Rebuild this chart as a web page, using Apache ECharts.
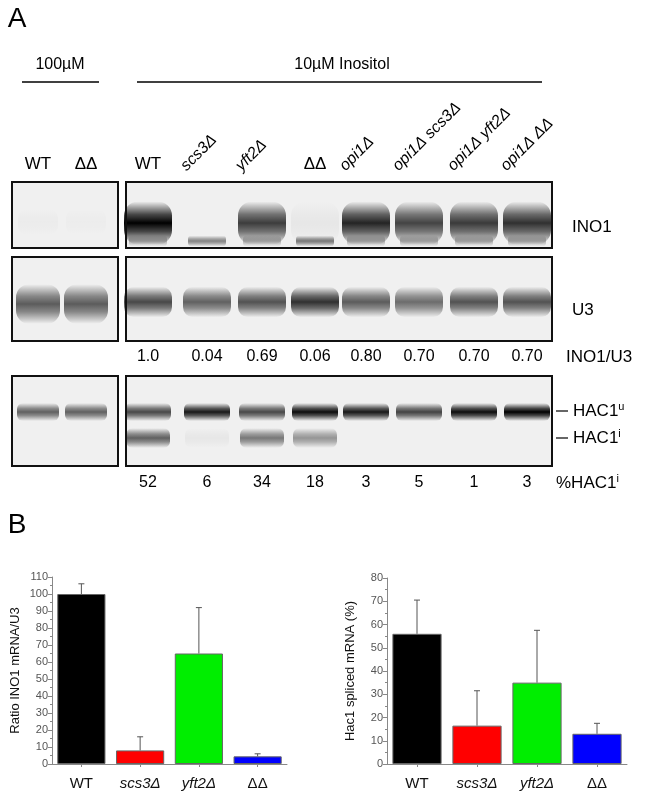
<!DOCTYPE html>
<html><head><meta charset="utf-8">
<script src="https://cdn.jsdelivr.net/npm/echarts@6/dist/echarts.min.js"></script>
<style>html,body{margin:0;padding:0;background:#fff}#c{width:651px;height:800px}</style>
</head><body><div id="c"></div>
<script>
// ---- Panel B data ----
const categories = ['WT', 'scs3Δ', 'yft2Δ', 'ΔΔ'];
const barColors = ['#000000', '#ff0000', '#00ee00', '#0000ff'];
const ino1Ratio = [100, 8, 65, 4.5];
const ino1RatioErr = [106, 16, 92, 6];
const hac1Spliced = [56, 16.5, 35, 13];
const hac1SplicedErr = [70.5, 31.5, 57.5, 17.5];
const leftTicks = [0,10,20,30,40,50,60,70,80,90,100,110];
const rightTicks = [0,10,20,30,40,50,60,70,80];
// ---- Panel A data ----
const laneLabelsLeft = ['WT', 'ΔΔ'];
const laneLabelsRight = ['WT', 'scs3Δ', 'yft2Δ', 'ΔΔ', 'opi1Δ', 'opi1Δ scs3Δ', 'opi1Δ yft2Δ', 'opi1Δ ΔΔ'];
const ino1OverU3 = ['1.0', '0.04', '0.69', '0.06', '0.80', '0.70', '0.70', '0.70'];
const pctHac1i = ['52', '6', '34', '18', '3', '5', '1', '3'];
const ino1Band = [1, 0, 0.75, 0.04, 0.85, 0.72, 0.76, 0.8];
const ino1Lower = [0.25, 0.45, 0.25, 0.5, 0.25, 0.25, 0.25, 0.25];
const u3Band = [0.7, 0.6, 0.66, 0.8, 0.62, 0.55, 0.66, 0.66];
const hacU = [0.7, 0.9, 0.7, 0.95, 0.9, 0.72, 0.95, 1];
const hacI = [0.6, 0.04, 0.5, 0.38, 0, 0, 0, 0];
const leftU3 = [0.62, 0.62];
const leftHacU = [0.6, 0.6];
const leftIno1 = [0.02, 0.015];

const laneXR = [148, 207, 262, 315, 366, 419, 474, 527];
const laneXL = [38, 86];
const F = '"Liberation Sans", Arial';
const g = [];
function txt(x, y, s, o) { g.push(Object.assign({type:'text', x, y, style:Object.assign({text:s, fill:'#000', font:'15px '+F, align:'center', verticalAlign:'middle'}, o||{})})); }
function line(x1,y1,x2,y2,w){ g.push({type:'line', shape:{x1,y1,x2,y2}, style:{stroke:'#000', lineWidth:w||1.5}}); }
function box(x,y,w,h){ g.push({type:'rect', shape:{x,y,width:w,height:h}, style:{fill:'#f0f0f0', stroke:'none'}}); }
function frame(x,y,w,h){ g.push({type:'rect', z:10, shape:{x,y,width:w,height:h}, style:{fill:'none', stroke:'#111', lineWidth:2}}); }
function band(cx, cy, w, h, a) {
  if (a <= 0) return;
  const c = t => 'rgba(0,0,0,' + (a*t).toFixed(3) + ')';
  const H = h * 1.8;
  g.push({type:'rect', shape:{x:cx-w/2, y:cy-H/2, width:w, height:H, r:H/3},
    style:{fill:{type:'linear', x:0, y:0, x2:0, y2:1, colorStops:[
      {offset:0, color:c(0)}, {offset:0.3, color:c(0.7)}, {offset:0.5, color:c(1)}, {offset:0.7, color:c(0.7)}, {offset:1, color:c(0)}]}}});
}
txt(17, 19, 'A', {font:'28px '+F});
txt(60, 65, '100µM', {font:'16px '+F});
line(22, 82, 99, 82);
txt(342, 65, '10µM Inositol', {font:'16px '+F});
line(137, 82, 542, 82);
laneLabelsLeft.forEach((s,i)=>txt(laneXL[i], 164, s, {font:'17px '+F}));
laneLabelsRight.forEach((s,i)=>{
  if (i === 0 || s === 'ΔΔ') { txt(laneXR[i], 164, s, {font:'17px '+F}); return; }
  g.push({type:'text', x:laneXR[i]-18, y:174, rotation:Math.PI/4, style:{text:s, fill:'#000', font:'italic 16px '+F, align:'left', verticalAlign:'bottom'}});
});
const rows = [[182,66],[257,84],[376,90]];
rows.forEach(r=>{ box(12, r[0], 106, r[1]); box(126, r[0], 426, r[1]); });
laneXL.forEach((x,i)=>{ band(x, 222, 40, 14, leftIno1[i]); band(x, 304, 44, 22, leftU3[i]); band(x, 412, 42, 10, leftHacU[i]); });
laneXR.forEach((x,i)=>{
  band(x, 223, 48, 24, ino1Band[i]);
  band(x, 241, 38, 6, ino1Lower[i]);
  band(x, 302, 48, 17, u3Band[i]);
  band(x, 412, 46, 10, hacU[i]);
  band(x, 438, 44, 11, hacI[i]);
  txt(x, 357, ino1OverU3[i], {font:'16px '+F});
  txt(x, 483, pctHac1i[i], {font:'16px '+F});
});
rows.forEach(r=>{ frame(12, r[0], 106, r[1]); frame(126, r[0], 426, r[1]); });
txt(572, 227, 'INO1', {align:'left', font:'17px '+F});
txt(572, 310, 'U3', {align:'left', font:'17px '+F});
txt(566, 357, 'INO1/U3', {align:'left', font:'17px '+F});
line(556, 411, 568, 411, 1.2); line(556, 438, 568, 438, 1.2);
g.push({type:'text', x:573, y:411, style:{text:'HAC1{s|u}', rich:{s:{fontSize:11, padding:[0,0,8,0]}}, fill:'#000', font:'17px '+F, verticalAlign:'middle'}});
g.push({type:'text', x:573, y:438, style:{text:'HAC1{s|i}', rich:{s:{fontSize:11, padding:[0,0,8,0]}}, fill:'#000', font:'17px '+F, verticalAlign:'middle'}});
g.push({type:'text', x:556, y:483, style:{text:'%HAC1{s|i}', rich:{s:{fontSize:11, padding:[0,0,8,0]}}, fill:'#000', font:'17px '+F, verticalAlign:'middle'}});
txt(17, 525, 'B', {font:'28px '+F});

function errSeries(gi, vals, errs) {
  return {type:'custom', xAxisIndex:gi, yAxisIndex:gi, z:5, data: vals.map((v,i)=>[i, v, errs[i]]),
    renderItem:(p, api)=>{
      const a = api.coord([api.value(0), api.value(1)]), b = api.coord([api.value(0), api.value(2)]);
      return {type:'group', children:[
        {type:'line', shape:{x1:a[0], y1:a[1], x2:b[0], y2:b[1]}, style:{stroke:'#555', lineWidth:1}},
        {type:'line', shape:{x1:b[0]-3, y1:b[1], x2:b[0]+3, y2:b[1]}, style:{stroke:'#555', lineWidth:1}}]};
    }};
}
function barSeries(gi, vals) {
  return {type:'bar', xAxisIndex:gi, yAxisIndex:gi, barCategoryGap:'18%',
    data: vals.map((v,i)=>({value:v, itemStyle:{color:barColors[i], borderColor:'#666', borderWidth:1}}))};
}
const xAx = gi => ({type:'category', gridIndex:gi, data:categories,
  axisLine:{lineStyle:{color:'#888'}}, axisTick:{show:true, alignWithLabel:true, length:3, lineStyle:{color:'#888'}},
  axisLabel:{interval:0, color:'#111', fontSize:15, margin:12, fontFamily:'Liberation Sans', formatter:v=> (v==='scs3Δ'||v==='yft2Δ') ? '{i|'+v+'}' : v, rich:{i:{fontStyle:'italic', fontSize:15, fontFamily:'Liberation Sans'}}}});
const yAx = (gi, max, name) => ({type:'value', gridIndex:gi, min:0, max, interval:10, name, nameLocation:'middle', nameGap:30,
  nameTextStyle:{fontSize:13, color:'#111', fontFamily:'Liberation Sans'},
  axisLine:{show:true, lineStyle:{color:'#888'}}, axisTick:{show:true, length:4, lineStyle:{color:'#888'}},
  minorTick:{show:true, splitNumber:2, length:2, lineStyle:{color:'#888'}},
  splitLine:{show:false}, axisLabel:{color:'#555', fontSize:11, margin:4, fontFamily:'Liberation Sans'}});

const chart = echarts.init(document.getElementById('c'));
chart.setOption({
  animation:false,
  grid:[{left:52, right:364, top:577, bottom:36}, {left:387, right:24, top:578, bottom:36}],
  xAxis:[xAx(0), xAx(1)],
  yAxis:[yAx(0, leftTicks[leftTicks.length-1], 'Ratio INO1 mRNA/U3'), yAx(1, rightTicks[rightTicks.length-1], 'Hac1 spliced mRNA (%)')],
  series:[barSeries(0, ino1Ratio), errSeries(0, ino1Ratio, ino1RatioErr), barSeries(1, hac1Spliced), errSeries(1, hac1Spliced, hac1SplicedErr)],
  graphic:g
});
</script></body></html>
